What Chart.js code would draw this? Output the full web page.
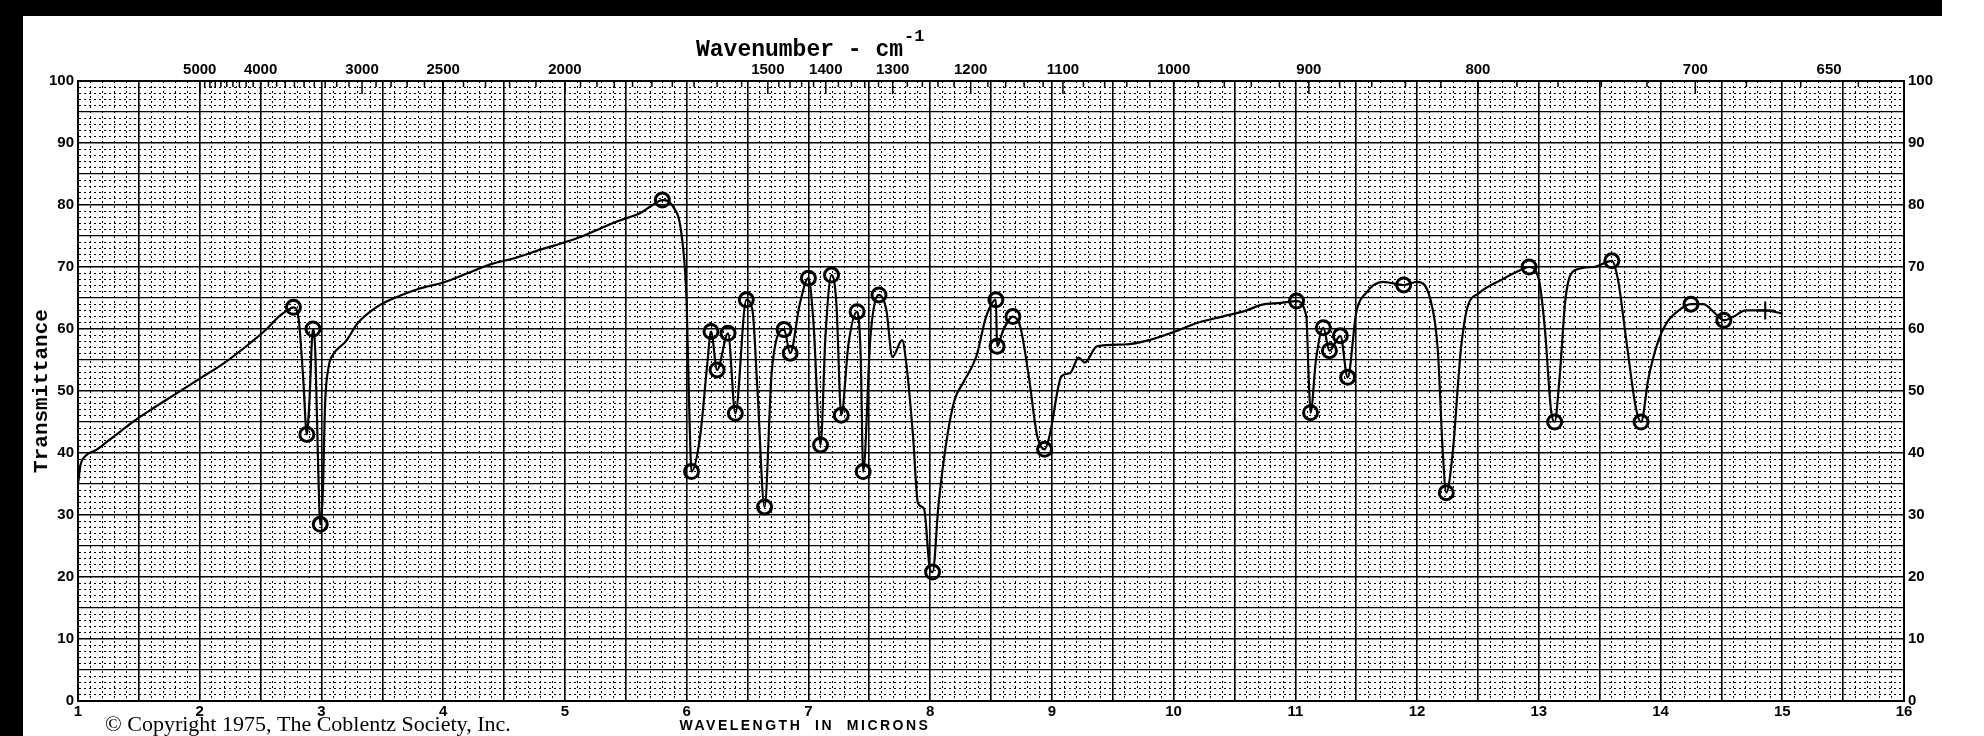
<!DOCTYPE html>
<html>
<head>
<meta charset="utf-8">
<title>IR Spectrum</title>
<script src="https://cdn.jsdelivr.net/npm/chart.js"></script>
<style>
  html, body { margin: 0; padding: 0; background: #fff; }
  canvas { display: block; }
</style>
</head>
<body>
<canvas id="irChart" width="1984" height="736"></canvas>
<script>
// spectrum trace (wavelength in microns, % transmittance)
const wavelength = [
  1.00, 1.02, 1.06, 1.15, 1.25, 1.35, 1.45, 1.60, 1.80, 2.00, 2.20, 2.40, 2.55, 2.65, 2.72, 2.77,
  2.81, 2.85, 2.88, 2.90, 2.93, 2.95, 2.97, 2.99, 3.01, 3.03, 3.06, 3.10, 3.20, 3.30, 3.45, 3.60,
  3.80, 4.00, 4.20, 4.40, 4.60, 4.80, 5.00, 5.15, 5.30, 5.45, 5.62, 5.72, 5.80, 5.89, 5.96, 6.00,
  6.02, 6.04, 6.11, 6.17, 6.20, 6.25, 6.34, 6.40, 6.49, 6.54, 6.58, 6.64, 6.70, 6.80, 6.85, 6.93,
  7.00, 7.04, 7.10, 7.14, 7.19, 7.23, 7.27, 7.33, 7.40, 7.43, 7.45, 7.51, 7.58, 7.64, 7.69, 7.77,
  7.81, 7.86, 7.90, 7.95, 8.00, 8.02, 8.07, 8.14, 8.20, 8.27, 8.38, 8.46, 8.54, 8.55, 8.60, 8.68,
  8.74, 8.81, 8.88, 8.94, 8.98, 9.08, 9.15, 9.22, 9.27, 9.37, 9.60, 9.80, 10.00, 10.20, 10.40, 10.60,
  10.72, 10.88, 11.01, 11.09, 11.11, 11.125, 11.17, 11.23, 11.28, 11.37, 11.43, 11.50, 11.58, 11.72, 11.89, 12.00,
  12.11, 12.17, 12.21, 12.24, 12.29, 12.36, 12.41, 12.51, 12.70, 12.85, 12.92, 13.00, 13.05, 13.10, 13.13, 13.17,
  13.22, 13.30, 13.45, 13.60, 13.65, 13.72, 13.80, 13.84, 13.90, 13.98, 14.05, 14.15, 14.25, 14.35, 14.45, 14.52,
  14.60, 14.70, 14.86, 15.00
];
const transmittance = [
  35, 38, 39.5, 40.5, 42, 43.5, 45, 47, 49.5, 52, 54.5, 57.5, 60, 62, 63, 63.5,
  62, 52, 43, 48, 60, 56, 40, 28.5, 33, 48, 54, 56, 58, 61, 63.5, 65,
  66.5, 67.5, 69, 70.5, 71.5, 72.8, 74, 75, 76.3, 77.5, 78.7, 80, 80.8, 79.7, 74.9, 64.1,
  48, 37, 42.6, 54.5, 59.6, 53.4, 59.3, 46.4, 64.7, 63.1, 50.7, 31.3, 53.4, 59.9, 56.1, 64.1,
  68.2, 61.5, 41.3, 58.8, 68.7, 64.1, 46.1, 57.7, 62.8, 55.5, 37, 58.8, 65.5, 63.1, 55.5, 58.2,
  53.4, 42.6, 31.9, 31.0, 21.1, 20.8, 31.9, 42.6, 48.5, 51.3, 55.6, 62.0, 64.7, 57.2, 59.8, 62.0,
  60.4, 52.4, 42.7, 40.6, 42.7, 52.4, 52.9, 55.4, 54.6, 57.2, 57.5, 58.2, 59.5, 61, 62, 63,
  63.9, 64.2, 64.5, 62.1, 52, 46.5, 55.1, 60.2, 56.5, 58.9, 52.2, 62.6, 65.8, 67.6, 67.1, 67.6,
  64.7, 56.7, 40.6, 33.6, 39.5, 56.7, 63.2, 65.8, 68, 69.5, 70, 68, 60, 47, 45, 52,
  65, 69.5, 70, 71, 68, 58, 47, 45, 52, 58, 61, 63, 64, 64, 62.5, 61.4,
  62, 63, 63, 62.5
];

// hand-drawn peak rings
const peakWl = [2.77, 2.88, 2.93, 2.99, 5.80, 6.04, 6.20, 6.25, 6.34, 6.40, 6.49, 6.64, 6.80, 6.85, 7.00, 7.10,
  7.19, 7.27, 7.40, 7.45, 7.58, 8.02, 8.54, 8.55, 8.68, 8.94, 11.01, 11.125, 11.23, 11.28, 11.37, 11.43,
  11.89, 12.24, 12.92, 13.13, 13.60, 13.84, 14.25, 14.52];
const peakT = [63.5, 43, 60, 28.5, 80.8, 37, 59.6, 53.4, 59.3, 46.4, 64.7, 31.3, 59.9, 56.1, 68.2, 41.3,
  68.7, 46.1, 62.8, 37, 65.5, 20.8, 64.7, 57.2, 62.0, 40.6, 64.5, 46.5, 60.2, 56.5, 58.9, 52.2,
  67.1, 33.6, 70, 45, 71, 45, 64, 61.4];
const endMarkWl = [14.86];
const endMarkT = [63];

// axis labels
const micronLabels = [1, 2, 3, 4, 5, 6, 7, 8, 9, 10, 11, 12, 13, 14, 15, 16];
const wavenumberLabels = [5000, 4000, 3000, 2500, 2000, 1500, 1400, 1300, 1200, 1100, 1000, 900, 800, 700, 650];
const percentLabels = [0, 10, 20, 30, 40, 50, 60, 70, 80, 90, 100];

const toPoints = (xs, ys) => xs.map((x, i) => ({ x: x, y: ys[i] }));

const labelFont = { family: "'Liberation Sans', Arial, sans-serif", size: 15, weight: 'bold' };

// minor tick marks along the top (wavenumber) edge
const topMinor = [];
for (let wn = 5000; wn > 2000; wn -= 100) topMinor.push(wn);
for (let wn = 2000; wn > 1500; wn -= 50) topMinor.push(wn);
for (let wn = 1500; wn >= 630; wn -= 20) topMinor.push(wn);

const paperDecor = {
  id: 'paperDecor',
  beforeDraw(chart) {
    const c = chart.ctx;
    c.save();
    c.fillStyle = '#fff';
    c.fillRect(0, 0, chart.width, chart.height);
    c.fillStyle = '#000';
    c.fillRect(0, 0, 1942, 16);
    c.fillRect(0, 0, 23, chart.height);
    c.restore();
  },
  afterDraw(chart) {
    const c = chart.ctx;
    const area = chart.chartArea;
    const top = chart.scales.x2;
    c.save();
    c.fillStyle = '#000';
    c.strokeStyle = '#000';

    // inward ticks on top edge
    c.lineWidth = 1.5;
    topMinor.forEach(wn => {
      const px = top.getPixelForValue(10000 / wn);
      const len = wavenumberLabels.includes(wn) ? 13 : 6;
      c.beginPath();
      c.moveTo(px, area.top);
      c.lineTo(px, area.top + len);
      c.stroke();
    });

    // title
    c.font = "bold 23px 'Courier New', 'Liberation Mono', monospace";
    c.textBaseline = 'alphabetic';
    c.textAlign = 'left';
    const title = 'Wavenumber - cm';
    c.fillText(title, 696, 56);
    const w = c.measureText(title).width;
    c.font = "bold 17px 'Courier New', 'Liberation Mono', monospace";
    c.fillText('-1', 696 + w + 1, 41);

    // y title
    c.save();
    c.translate(42, (area.top + area.bottom) / 2);
    c.rotate(-Math.PI / 2);
    c.font = "bold 21px 'Courier New', 'Liberation Mono', monospace";
    c.textAlign = 'center';
    c.textBaseline = 'middle';
    c.fillText('Transmittance', 0, 0);
    c.restore();

    // footer
    c.font = "22px 'Liberation Serif', 'Times New Roman', serif";
    c.textAlign = 'left';
    c.textBaseline = 'alphabetic';
    c.fillText('\u00A9 Copyright 1975, The Coblentz Society, Inc.', 105, 731);
    c.font = "bold 14px 'Liberation Sans', Arial, sans-serif";
    c.letterSpacing = '2.5px';
    c.textAlign = 'center';
    c.fillText('WAVELENGTH  IN  MICRONS', 805, 730);
    c.restore();
  }
};

const isMinor = (v, step) => Math.abs(v / step - Math.round(v / step)) > 1e-6;

new Chart(document.getElementById('irChart'), {
  type: 'line',
  data: {
    datasets: [{
      label: 'Transmittance',
      data: toPoints(wavelength, transmittance),
      borderColor: '#000',
      borderWidth: 2.2,
      pointRadius: 0,
      cubicInterpolationMode: 'monotone',
      fill: false
    }, {
      label: 'Peaks',
      data: toPoints(peakWl, peakT),
      showLine: false,
      pointRadius: 7,
      pointBorderWidth: 3,
      pointBorderColor: '#000',
      pointBackgroundColor: 'rgba(0,0,0,0)'
    }, {
      label: 'End',
      data: toPoints(endMarkWl, endMarkT),
      showLine: false,
      pointStyle: 'cross',
      pointRadius: 9,
      pointBorderWidth: 2,
      pointBorderColor: '#000'
    }]
  },
  options: {
    responsive: false,
    animation: false,
    layout: { padding: 0 },
    plugins: {
      legend: { display: false },
      tooltip: { enabled: false }
    },
    scales: {
      x: {
        type: 'linear',
        position: 'bottom',
        min: 1,
        max: 16,
        afterFit: s => { s.height = 35; },
        afterBuildTicks: s => {
          const t = [];
          for (let i = 10; i <= 160; i++) t.push({ value: i / 10 });
          s.ticks = t;
        },
        ticks: {
          autoSkip: false,
          maxRotation: 0,
          padding: 2,
          color: '#000',
          font: labelFont,
          callback: v => (micronLabels.includes(Math.round(v * 10) / 10) ? String(Math.round(v)) : '')
        },
        grid: {
          drawTicks: false,
          color: '#000',
          lineWidth: ctx => (ctx.tick && !isMinor(ctx.tick.value, 0.5) ? 1.6 : 1)
        },
        border: {
          color: '#000',
          width: 2,
          dash: ctx => (ctx.tick && isMinor(ctx.tick.value, 0.5) ? [2, 3] : [])
        }
      },
      x2: {
        type: 'linear',
        position: 'top',
        min: 1,
        max: 16,
        afterFit: s => { s.height = 81; },
        afterBuildTicks: s => {
          s.ticks = wavenumberLabels.map(wn => ({ value: 10000 / wn }));
        },
        ticks: {
          autoSkip: false,
          maxRotation: 0,
          padding: 2,
          color: '#000',
          font: labelFont,
          callback: (v, i) => String(wavenumberLabels[i])
        },
        grid: { display: false, drawTicks: false },
        border: { color: '#000', width: 2 }
      },
      y: {
        type: 'linear',
        position: 'left',
        min: 0,
        max: 100,
        afterFit: s => { s.width = 78; },
        afterBuildTicks: s => {
          const t = [];
          for (let i = 0; i <= 100; i++) t.push({ value: i });
          s.ticks = t;
        },
        ticks: {
          autoSkip: false,
          padding: 4,
          color: '#000',
          font: labelFont,
          callback: v => (percentLabels.includes(v) ? String(v) : '')
        },
        grid: {
          drawTicks: false,
          color: '#000',
          lineWidth: ctx => (ctx.tick && ctx.tick.value % 10 === 0 ? 1.6 : ctx.tick && ctx.tick.value % 5 === 0 ? 1.2 : 1)
        },
        border: {
          color: '#000',
          width: 2,
          dash: ctx => (ctx.tick && ctx.tick.value % 5 !== 0 ? [2, 3] : [])
        }
      },
      y2: {
        type: 'linear',
        position: 'right',
        min: 0,
        max: 100,
        afterFit: s => { s.width = 80; },
        afterBuildTicks: s => {
          s.ticks = percentLabels.map(v => ({ value: v }));
        },
        ticks: {
          autoSkip: false,
          padding: 4,
          color: '#000',
          font: labelFont
        },
        grid: { display: false, drawTicks: false },
        border: { color: '#000', width: 2 }
      }
    }
  },
  plugins: [paperDecor]
});
</script>
</body>
</html>
